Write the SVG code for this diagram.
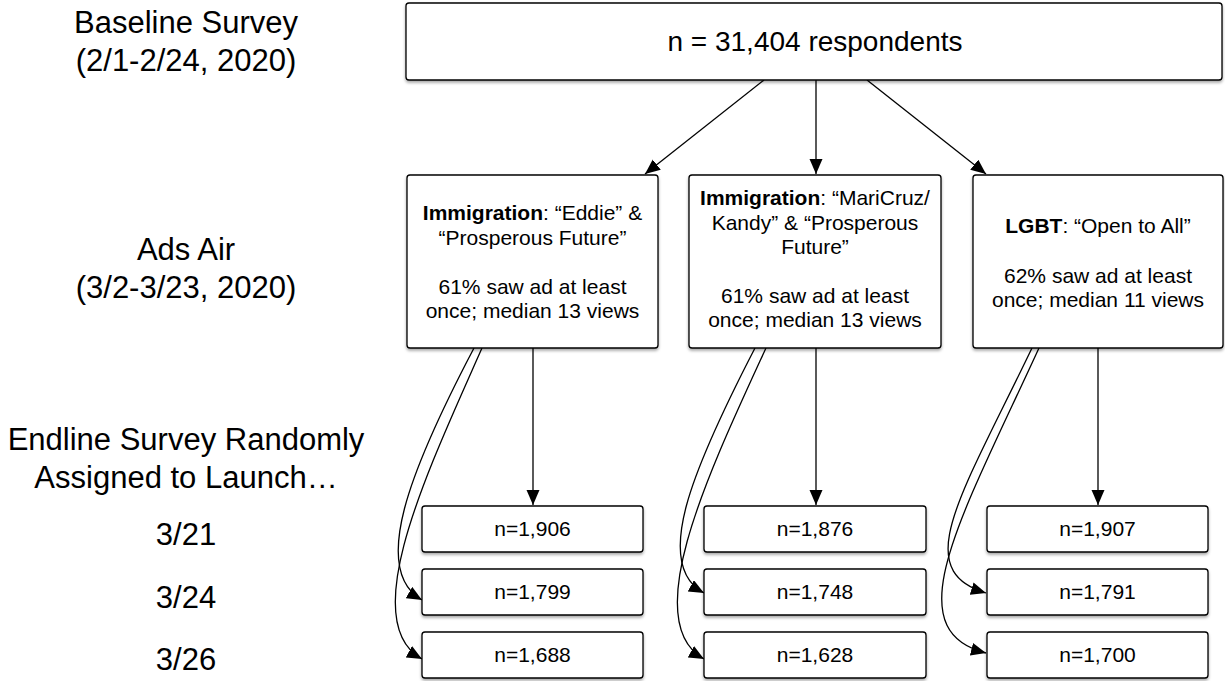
<svg xmlns="http://www.w3.org/2000/svg" width="1225" height="681" viewBox="0 0 1225 681">
<style>
.box{fill:#fff;stroke:#000;stroke-width:1.3;filter:url(#sh)}
.lbl{font-family:"Liberation Sans",Arial,sans-serif;font-size:31px;fill:#000;text-anchor:middle}
.t{font-family:"Liberation Sans",Arial,sans-serif;font-size:21px;fill:#000;text-anchor:middle}
.big{font-family:"Liberation Sans",Arial,sans-serif;font-size:28px;fill:#000;text-anchor:middle}
.b{font-weight:bold}
.c{fill:none;stroke:#000;stroke-width:1.3;marker-end:url(#ah)}
</style>
<defs>
<filter id="sh" x="-5%" y="-5%" width="110%" height="130%">
<feDropShadow dx="0" dy="2" stdDeviation="1.6" flood-color="#000" flood-opacity="0.35"/>
</filter>
<marker id="ah" markerUnits="userSpaceOnUse" markerWidth="16" markerHeight="14" refX="15" refY="6.5" orient="auto">
<path d="M0,0 L15,6.5 L0,13 z" fill="#000"/>
</marker>
</defs>
<g id="labels">
<text class="lbl" x="186" y="33">Baseline Survey</text>
<text class="lbl" x="186" y="71">(2/1-2/24, 2020)</text>
<text class="lbl" x="186" y="260">Ads Air</text>
<text class="lbl" x="186" y="298">(3/2-3/23, 2020)</text>
<text class="lbl" x="186" y="450">Endline Survey Randomly</text>
<text class="lbl" x="186" y="488">Assigned to Launch…</text>
<text class="lbl" x="186" y="545">3/21</text>
<text class="lbl" x="186" y="608">3/24</text>
<text class="lbl" x="186" y="670">3/26</text>
</g>
<g id="connectors">
<path class="c" d="M764,80 L645,174"/>
<path class="c" d="M816,80 L816,174"/>
<path class="c" d="M867,80 L986,174"/>
<path class="c" d="M533,348 L533,505"/>
<path class="c" d="M816,348 L816,505"/>
<path class="c" d="M1098,348 L1098,505"/>
<path class="c" d="M474,348 C410,470 370,570 422,600"/>
<path class="c" d="M482,348 C428,470 355,622 422,659"/>
<path class="c" d="M755,348 C692,470 652,565 704,593"/>
<path class="c" d="M766,348 C710,470 637,622 704,659"/>
<path class="c" d="M1032,348 C960,498 910,570 986,593"/>
<path class="c" d="M1039,348 C960,520 895,630 986,653"/>
</g>
<g id="baseline">
<rect class="box" x="406" y="3" width="816" height="77" rx="3"/>
<text class="big" x="815" y="51">n = 31,404 respondents</text>
</g>
<g id="ad-eddie">
<rect class="box" x="407" y="175" width="251" height="173" rx="3"/>
<text class="t" x="532.5" y="220"><tspan class="b">Immigration</tspan>: “Eddie” &amp;</text>
<text class="t" x="532.5" y="245">“Prosperous Future”</text>
<text class="t" x="532.5" y="294">61% saw ad at least</text>
<text class="t" x="532.5" y="318">once; median 13 views</text>
</g>
<g id="ad-maricruz">
<rect class="box" x="689" y="175" width="252" height="173" rx="3"/>
<text class="t" x="815" y="205"><tspan class="b">Immigration</tspan>: “MariCruz/</text>
<text class="t" x="815" y="230">Kandy” &amp; “Prosperous</text>
<text class="t" x="815" y="254">Future”</text>
<text class="t" x="815" y="303">61% saw ad at least</text>
<text class="t" x="815" y="327">once; median 13 views</text>
</g>
<g id="ad-lgbt">
<rect class="box" x="973" y="175" width="250" height="173" rx="3"/>
<text class="t" x="1098" y="233"><tspan class="b">LGBT</tspan>: “Open to All”</text>
<text class="t" x="1098" y="283">62% saw ad at least</text>
<text class="t" x="1098" y="307">once; median 11 views</text>
</g>
<g id="e1-321"><rect class="box" x="422" y="506" width="221" height="46" rx="3"/><text class="t" x="532.5" y="536">n=1,906</text></g>
<g id="e1-324"><rect class="box" x="422" y="569" width="221" height="46" rx="3"/><text class="t" x="532.5" y="599">n=1,799</text></g>
<g id="e1-326"><rect class="box" x="422" y="632" width="221" height="46" rx="3"/><text class="t" x="532.5" y="662">n=1,688</text></g>
<g id="e2-321"><rect class="box" x="704" y="506" width="222" height="46" rx="3"/><text class="t" x="815" y="536">n=1,876</text></g>
<g id="e2-324"><rect class="box" x="704" y="569" width="222" height="46" rx="3"/><text class="t" x="815" y="599">n=1,748</text></g>
<g id="e2-326"><rect class="box" x="704" y="632" width="222" height="46" rx="3"/><text class="t" x="815" y="662">n=1,628</text></g>
<g id="e3-321"><rect class="box" x="987" y="506" width="221" height="46" rx="3"/><text class="t" x="1097.5" y="536">n=1,907</text></g>
<g id="e3-324"><rect class="box" x="987" y="569" width="221" height="46" rx="3"/><text class="t" x="1097.5" y="599">n=1,791</text></g>
<g id="e3-326"><rect class="box" x="987" y="632" width="221" height="46" rx="3"/><text class="t" x="1097.5" y="662">n=1,700</text></g>
</svg>
